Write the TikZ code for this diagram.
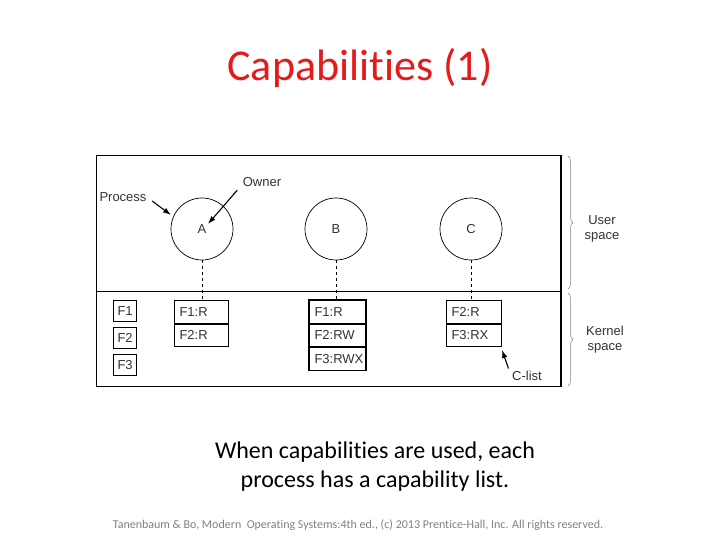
\documentclass[tikz,border=0pt]{standalone}
\usepackage{fontspec}
\setmainfont[Ligatures=NoCommon]{Carlito}
\newfontfamily\figfont{Liberation Sans}
\usetikzlibrary{decorations.pathreplacing,arrows.meta}
\definecolor{titlered}{RGB}{228,26,28}
\definecolor{figtext}{RGB}{50,50,50}
\newcommand{\capcell}[4]{\node[cell,text width=#3] (#1) at #2 {#4};}

\begin{document}
\begin{tikzpicture}[x=1pt,y=-1pt,line width=0.7pt,
  proc/.style={circle,draw,minimum size=62pt,inner sep=0pt,font=\figfont\fontsize{13}{15}\selectfont,text=figtext},
  cell/.style={draw,line width=1pt,anchor=north west,minimum height=22.5pt,inner xsep=5pt,inner ysep=0pt,
    align=left,font=\figfont\fontsize{13}{15}\selectfont,text=figtext},
  fbox/.style={draw,line width=1.2pt,minimum width=23pt,minimum height=21pt,inner sep=0pt,anchor=north west,
    font=\figfont\fontsize{13}{15}\selectfont,text=figtext},
  lbl/.style={font=\figfont\fontsize{13}{15}\selectfont,text=figtext,align=center},
  pointer/.style={-{Latex[length=8pt,width=5.5pt]},line width=1.1pt},
  spacebrace/.style={draw=gray,line width=0.5pt,decorate,decoration={brace,amplitude=5pt}}]
\useasboundingbox (0,0) rectangle (720,540);

% ---- title and caption
\node[text=titlered,font=\fontsize{44}{48}\selectfont] (title) at (360,68) {Capabilities (1)};
\node[align=center,font=\fontsize{24}{29}\selectfont] (caption) at (375,467)
  {When capabilities are used, each\\process has a capability list.};
\node[text=gray,font=\fontsize{12}{14}\selectfont] (footer) at (358,525)
  {Tanenbaum \& Bo, Modern\ \ Operating Systems:4th ed., (c) 2013 Prentice-Hall, Inc. All rights reserved.};

% ---- frame
\draw (96,155) rectangle (561,386);
\draw[line width=1.4pt] (561,155) -- (561,386);
\draw (96,291) -- (561,291);

% ---- processes
\node[proc] (A) at (202,229) {A};
\node[proc] (B) at (336,229) {B};
\node[proc] (C) at (471,229) {C};

% ---- files
\node[fbox] (f1) at (113,300) {F1};
\node[fbox] (f2) at (113,327) {F2};
\node[fbox] (f3) at (113,354) {F3};

% ---- capability lists
\capcell{a1}{(174,300)}{44pt}{F1:R}
\capcell{a2}{(a1.south west)}{44pt}{F2:R}
\capcell{b1}{(309,300)}{46pt}{F1:R}
\capcell{b2}{(b1.south west)}{46pt}{F2:RW}
\capcell{b3}{(b2.south west)}{46pt}{F3:RWX}
\capcell{c1}{(446,300)}{45pt}{F2:R}
\capcell{c2}{(c1.south west)}{45pt}{F3:RX}
\draw[line width=1.6pt] (b1.north west) rectangle (b3.south east);

% ---- dashed links
\draw[dashed] (A.south) -- (a1.north -| A.south);
\draw[dashed] (B.south) -- (b1.north -| B.south);
\draw[dashed] (C.south) -- (c1.north -| C.south);

% ---- labels and pointers
\node[lbl] (process) at (123,197) {Process};
\node[lbl] (owner) at (262,182) {Owner};
\node[lbl] (clist) at (527,376) {C-list};
\coordinate (processtip) at (171,215);
\coordinate (ownertip) at (208,224);
\coordinate (clisttip) at (502,350);
\draw[pointer] ([shift={(2,4)}]process.east) -- (processtip);
\draw[pointer] ([shift={(-2,0)}]owner.south west) -- (ownertip);
\draw[pointer] ([shift={(0,1)}]clist.north west) -- (clisttip);

% ---- address spaces
\draw[spacebrace] (568,156) -- (568,289);
\draw[spacebrace] (568,293) -- (568,386);
\node[lbl] (user) at (602,229) {User\\space};
\node[lbl] (kernel) at (605,340) {Kernel\\space};
\end{tikzpicture}
\end{document}
